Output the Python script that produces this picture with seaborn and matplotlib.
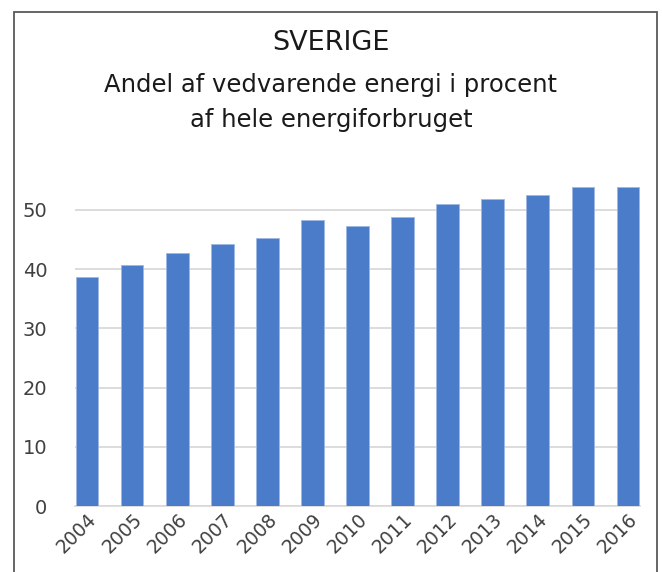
import matplotlib
matplotlib.use("Agg")
import matplotlib.pyplot as plt
import seaborn as sns
import pandas as pd
from matplotlib.patches import Rectangle

# data
years = ["2004", "2005", "2006", "2007", "2008", "2009", "2010",
         "2011", "2012", "2013", "2014", "2015", "2016"]
share = [38.6, 40.6, 42.7, 44.2, 45.2, 48.2, 47.2,
         48.7, 51.0, 51.8, 52.5, 53.8, 53.8]
yticks = [0, 10, 20, 30, 40, 50]

title = "SVERIGE"
subtitle_lines = ["Andel af vedvarende energi i procent", "af hele energiforbruget"]

df = pd.DataFrame({"year": years, "share": share})

sns.set_theme(style="white")
plt.rcParams["font.family"] = ["DejaVu Sans"]

fig = plt.figure(figsize=(6.62, 5.72), dpi=100)
ax = fig.add_axes([75 / 662, 1 - 506 / 572, 565 / 662, 0.58])

sns.barplot(data=df, x="year", y="share", color="#4a7cc9", saturation=1,
            width=0.5, edgecolor="#9db8e3", linewidth=0.6, ax=ax, zorder=3)

ax.set_ylim(0, 56)
ax.set_xlim(-0.27, len(years) - 0.73)
ax.set_yticks(yticks)
ax.yaxis.grid(True, color="#d9d9d9", linewidth=1.3, zorder=0)
ax.set_xlabel("")
ax.set_ylabel("")
for s in ["top", "right", "left"]:
    ax.spines[s].set_visible(False)
ax.spines["bottom"].set_color("#d9d9d9")
ax.tick_params(axis="y", labelsize=14, colors="#404040", length=0, pad=20)
ax.tick_params(axis="x", labelsize=13.5, colors="#404040", length=0, pad=3)
plt.setp(ax.get_xticklabels(), rotation=45, ha="right", rotation_mode="anchor")

fig.text(0.5, 1 - 43 / 572, title, ha="center", va="center",
         fontsize=19.5, color="#1a1a1a")
fig.text(0.5, 1 - 85 / 572, subtitle_lines[0], ha="center", va="center",
         fontsize=17.5, color="#1a1a1a")
fig.text(0.5, 1 - 120 / 572, subtitle_lines[1], ha="center", va="center",
         fontsize=17.5, color="#1a1a1a")

# frame around the chart, running off the bottom edge
fig.add_artist(Rectangle((14 / 662, -0.05), (657 - 14) / 662, 1 - 12 / 572 + 0.05,
                         transform=fig.transFigure, fill=False,
                         edgecolor="#595959", linewidth=1.3))

fig.savefig("out.png", dpi=100)
